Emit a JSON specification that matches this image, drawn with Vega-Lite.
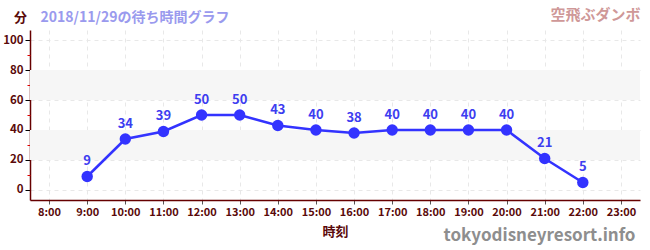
{
  "$schema": "https://vega.github.io/schema/vega-lite/v6.json",
  "width": 610,
  "height": 170,
  "autosize": "none",
  "padding": {"left": 30, "top": 30, "right": 10, "bottom": 50},
  "config": {
    "font": "Noto Sans CJK JP",
    "view": {"stroke": null},
    "axis": {"labelFont": "Noto Sans CJK JP", "titleFont": "Noto Sans CJK JP"}
  },
  "datasets": {
    "waits": [
      {"hour": 9, "wait": 9},
      {"hour": 10, "wait": 34},
      {"hour": 11, "wait": 39},
      {"hour": 12, "wait": 50},
      {"hour": 13, "wait": 50},
      {"hour": 14, "wait": 43},
      {"hour": 15, "wait": 40},
      {"hour": 16, "wait": 38},
      {"hour": 17, "wait": 40},
      {"hour": 18, "wait": 40},
      {"hour": 19, "wait": 40},
      {"hour": 20, "wait": 40},
      {"hour": 21, "wait": 21},
      {"hour": 22, "wait": 5}
    ],
    "bands": [
      {"lo": 20, "hi": 40},
      {"lo": 60, "hi": 80}
    ]
  },
  "resolve": {"axis": {"x": "independent", "y": "independent"}},
  "layer": [
    {
      "data": {"name": "bands"},
      "mark": {"type": "rect", "color": "#f6f6f6"},
      "encoding": {
        "y": {"field": "lo", "type": "quantitative", "scale": {"domain": [-6.67, 106.67], "nice": false, "zero": false}, "axis": null},
        "y2": {"field": "hi"}
      }
    },
    {
      "data": {"name": "waits"},
      "mark": {"type": "line", "color": "#3333ff", "strokeWidth": 2.5},
      "encoding": {
        "x": {
          "field": "hour", "type": "quantitative",
          "scale": {"domain": [7.5, 23.5], "nice": false, "zero": false},
          "axis": {
            "orient": "bottom",
            "values": [8, 9, 10, 11, 12, 13, 14, 15, 16, 17, 18, 19, 20, 21, 22, 23],
            "labelExpr": "datum.value + ':00'",
            "labelColor": "#5a0a0a", "labelFontWeight": "bold", "labelFontSize": 11,
            "domainColor": "#660000", "domainWidth": 1.5,
            "tickColor": "#555555", "tickSize": 4,
            "grid": true, "gridColor": "#e8e8e8", "gridDash": [4, 4],
            "title": "時刻", "titleColor": "#5a0a0a", "titleFontSize": 13, "titleFontWeight": "bold",
            "titleY": 31, "titleBaseline": "middle"
          }
        },
        "y": {
          "field": "wait", "type": "quantitative",
          "scale": {"domain": [-6.67, 106.67], "nice": false, "zero": false},
          "axis": {
            "orient": "left",
            "values": [0, 20, 40, 60, 80, 100],
            "labelColor": "#5a0a0a", "labelFontWeight": "bold", "labelFontSize": 11.5,
            "domainColor": "#660000", "domainWidth": 1.5,
            "tickColor": "#000000", "tickSize": 5, "tickOffset": 0,
            "grid": true, "gridColor": "#e8e8e8", "gridDash": [4, 4],
            "title": "分", "titleAngle": 0, "titleColor": "#5a0a0a", "titleFontSize": 13, "titleFontWeight": "bold",
            "titleX": -10, "titleY": -13, "titleAlign": "center", "titleBaseline": "middle"
          }
        }
      }
    },
    {
      "data": {"name": "waits"},
      "mark": {"type": "circle", "color": "#3333ff", "opacity": 1, "size": 130},
      "encoding": {
        "x": {
          "field": "hour", "type": "quantitative",
          "axis": {
            "orient": "top", "labels": false, "ticks": false, "domain": false, "grid": false,
            "title": "tokyodisneyresort.info", "titleColor": "#8e8e8e", "titleFontSize": 17, "titleFontWeight": "bold",
            "titleFont": "Noto Sans CJK JP",
            "titleX": 605, "titleY": 205, "titleAlign": "right", "titleBaseline": "middle"
          }
        },
        "y": {
          "field": "wait", "type": "quantitative",
          "axis": {
            "orient": "right", "labels": false, "ticks": false, "domain": false, "grid": false,
            "title": "空飛ぶダンボ", "titleAngle": 0, "titleColor": "#cf9898", "titleFontSize": 15, "titleFontWeight": "bold",
            "titleX": 0, "titleY": -16, "titleAlign": "right", "titleBaseline": "middle"
          }
        }
      }
    },
    {
      "data": {"name": "waits"},
      "mark": {"type": "text", "color": "#3d3df0", "fontSize": 13, "fontWeight": "bold", "dy": -15, "font": "Noto Sans CJK JP"},
      "encoding": {
        "x": {"field": "hour", "type": "quantitative", "axis": null},
        "y": {
          "field": "wait", "type": "quantitative",
          "axis": {
            "orient": "left", "values": [10, 30, 50, 70, 90], "labels": false, "domain": false, "grid": false,
            "tickColor": "#dd0000", "tickSize": 3,
            "title": "2018/11/29の待ち時間グラフ", "titleAngle": 0, "titleColor": "#9a9aee", "titleFontSize": 14, "titleFontWeight": "bold",
            "titleX": 10, "titleY": -13, "titleAlign": "left", "titleBaseline": "middle"
          }
        },
        "text": {"field": "wait", "type": "quantitative"}
      }
    }
  ]
}
